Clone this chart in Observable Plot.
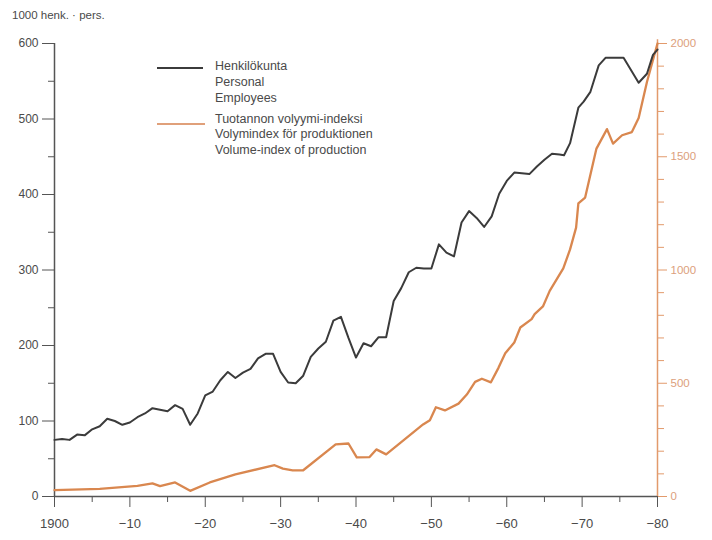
<!DOCTYPE html>
<html><head><meta charset="utf-8">
<script src="https://cdn.jsdelivr.net/npm/d3@7"></script>
<script src="https://cdn.jsdelivr.net/npm/@observablehq/plot@0.6"></script>
<style>
body{margin:0;background:#fff;}
#wrap{position:relative;width:712px;height:540px;font-family:"Liberation Sans",Arial,sans-serif;color:#4a4a4a;}
#title{position:absolute;left:12px;top:10px;font-size:11.5px;line-height:11.5px;white-space:nowrap;}
.leg{position:absolute;left:215px;font-size:12.5px;line-height:15.8px;white-space:nowrap;color:#4a4a4a;}
.sw{position:absolute;left:157px;height:2px;}
#chart{position:absolute;left:0;top:0;}
</style></head><body>
<div id="wrap">
<div id="chart"></div>
<div id="title">1000 henk. · pers.</div>
<div class="sw" style="top:67px;width:46px;background:#3b3b3b"></div>
<div class="leg" style="top:59.4px">Henkilökunta<br>Personal<br>Employees</div>
<div class="sw" style="top:123px;width:48px;background:#e0a07a"></div>
<div class="leg" style="top:111.7px">Tuotannon volyymi-indeksi<br>Volymindex för produktionen<br>Volume-index of production</div>
</div>
<script>
// Employees (1000 persons)
const staffYears = [1900,1901,1902,1903,1904,1905,1906,1907,1908,1909,1910,1911,1912,1913,1914,1915,1916,1917,1918,1919,
  1920,1921,1922,1923,1924,1925,1926,1927,1928,1929,1930,1931,1932,1933,1934,1935,1936,1937,1938,1939,
  1940,1941,1942,1943,1944,1945,1946,1947,1948,1949,1950,1951,1952,1953,1954,1955,1956,1957,1958,1959,
  1960,1961,1962,1963,1964,1965,1966,1967,1967.6,1968.4,1969.5,1970.2,1971.1,1972.2,1973.1,1975.5,1977.5,1978.6,1979.4,1980];
const staff = [75,76,75,82,81,89,93,103,100,95,98,105,110,117,115,113,121,116,95,110,
  134,139,154,165,157,164,169,183,189,189,165,151,150,160,185,196,205,233,238,210,
  184,203,199,211,211,259,276,297,303,302,302,334,323,318,363,378,369,357,371,401,
  418,429,428,427,437,446,454,453,452,468,515,523,536,571,581,581,548,560,585,592];

// Volume index of production
const prodYears = [1900,1906,1911,1913,1914,1916,1918,1920.6,1924,1929.2,1930.3,1931.6,1933,1937.3,1939,1940.1,1941.8,1942.7,1944,
  1948.9,1949.8,1950.6,1951.8,1953.6,1954.7,1955.8,1956.7,1957.9,1958.9,1959.8,1961,1961.8,1963.3,1963.7,1964.8,1965.7,
  1967.5,1968.4,1969.2,1969.5,1970.4,1971.9,1973.3,1974.1,1975.3,1976.6,1977.5,1978.6,1980];
const prod = [28,34,47,58,46,62,25,62,98,138,123,115,116,230,234,173,174,208,186,
  318,337,394,380,410,450,506,520,504,568,632,680,746,783,805,839,908,
  1007,1091,1187,1294,1320,1536,1622,1558,1595,1609,1671,1830,2000];

const leftMajor = [0,100,200,300,400,500,600];
const leftMinor = [50,150,250,350,450,550];
const rightMajor = [0,500,1000,1500,2000];
const rightMinor = [100,200,300,400,600,700,800,900,1100,1200,1300,1400,1600,1700,1800,1900];
const xMajor = [1900,1910,1920,1930,1940,1950,1960,1970,1980];
const xMinor = [1905,1915,1925,1935,1945,1955,1965,1975];

const k = 600 / 2000; // right scale onto left scale
const dark = "#3b3b3b", axisGray = "#555", textGray = "#4a4a4a";
const orange = "#d9874f", orangeAxis = "#e29a6c", orangeText = "#dca07c";

const employees = staffYears.map((y, i) => ({year: y, v: staff[i]}));
const production = prodYears.map((y, i) => ({year: y, v: prod[i] * k}));

const chart = Plot.plot({
  width: 712, height: 540,
  marginLeft: 54, marginRight: 55, marginTop: 43, marginBottom: 44,
  x: {domain: [1900, 1980]},
  y: {domain: [0, 600]},
  style: {fontFamily: '"Liberation Sans", Arial, sans-serif', background: "transparent", color: textGray},
  marks: [
    Plot.axisY({ticks: leftMajor, anchor: "left", tickSize: 12, tickPadding: 4, fontSize: 12, stroke: axisGray, fill: textGray, label: null}),
    Plot.axisY({ticks: leftMinor, anchor: "left", tickSize: 6, tickFormat: () => "", stroke: axisGray, label: null}),
    Plot.axisY({ticks: rightMajor.map(v => v * k), anchor: "right", tickSize: 9, tickPadding: 4, fontSize: 11.5,
      tickFormat: d => String(Math.round(d / k)), stroke: orangeAxis, fill: orangeText, label: null}),
    Plot.axisY({ticks: rightMinor.map(v => v * k), anchor: "right", tickSize: 6, tickFormat: () => "", stroke: orangeAxis, label: null}),
    Plot.axisX({ticks: xMajor, tickSize: 11, tickPadding: 11, fontSize: 13, stroke: axisGray, fill: textGray,
      tickFormat: d => d === 1900 ? "1900" : "\u2212" + (d - 1900), label: null}),
    Plot.axisX({ticks: xMinor, tickSize: 6, tickFormat: () => "", stroke: axisGray, label: null}),
    Plot.ruleX([1900], {y1: 0, y2: 600, stroke: axisGray, strokeWidth: 1.5}),
    Plot.ruleX([1980], {y1: 0, y2: 605, stroke: orangeAxis, strokeWidth: 1.5}),
    Plot.ruleY([0], {x1: 1900, x2: 1980, stroke: axisGray, strokeWidth: 1.5}),
    Plot.line(production, {x: "year", y: "v", stroke: orange, strokeWidth: 2.3}),
    Plot.line(employees, {x: "year", y: "v", stroke: dark, strokeWidth: 2})
  ]
});
document.getElementById("chart").appendChild(chart);
</script>
</body></html>
